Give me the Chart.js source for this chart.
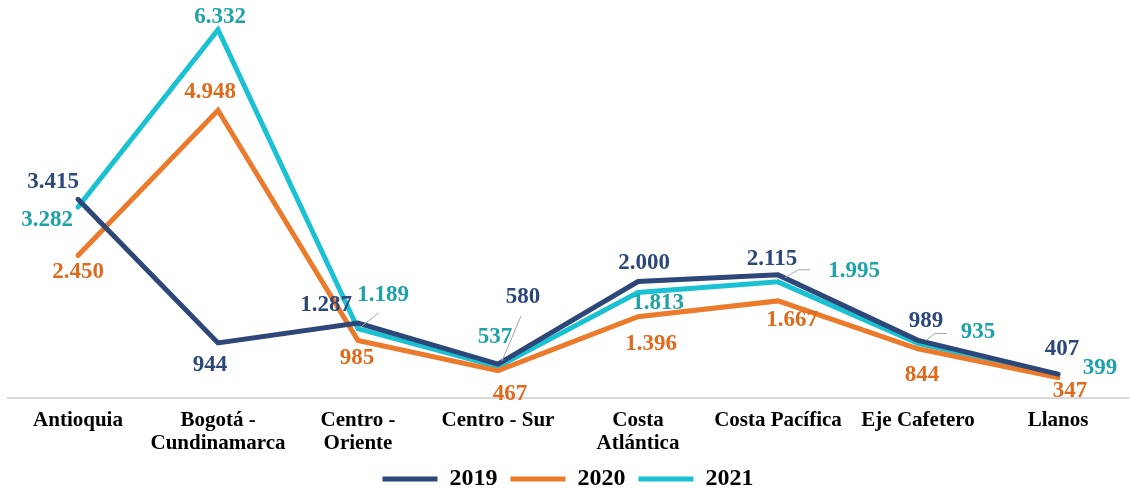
<!DOCTYPE html>
<html lang="es">
<head>
<meta charset="UTF-8">
<title>Regiones 2019-2021</title>
<script src="https://cdn.jsdelivr.net/npm/chart.js"></script>
<style>
    html, body { margin: 0; padding: 0; background: #fff; }
    #wrap { width: 1130px; height: 491px; }
</style>
</head>
<body>
<div id="wrap"><canvas id="regionChart" width="1130" height="491"></canvas></div>
<script>
    // categorias y valores
    const regions = [
        'Antioquia',
        ['Bogotá -', 'Cundinamarca'],
        ['Centro -', 'Oriente'],
        'Centro - Sur',
        ['Costa', 'Atlántica'],
        'Costa Pacífica',
        'Eje Cafetero',
        'Llanos'
    ];
    const years = ['2019', '2020', '2021'];
    const values2019 = [3415, 944, 1287, 580, 2000, 2115, 989, 407];
    const values2020 = [2450, 4948, 985, 467, 1396, 1667, 844, 347];
    const values2021 = [3282, 6332, 1189, 537, 1813, 1995, 935, 399];

    const lineColors = ['#2C4778', '#EC7A2B', '#19C1D2'];
    const labelColors = ['#2C4778', '#E06A1C', '#1DA2A8'];

    // posicion de cada etiqueta respecto a su punto (dx, dy)
    const labelOffsets = [
        [[-25, -17], [-8, 22], [-32, -18], [25, -67], [6, -18], [-6, -16], [8, -19], [4, -25]],
        [[0, 17], [-8, -18], [-1, 18], [12, 23], [13, 27], [14, 19], [4, 26], [12, 13]],
        [[-31, 13], [2, -13], [25, -34], [-3, -30], [20, 11], [76, -11], [60, -11], [42, -7]]
    ];
    // lineas guia grises: [serie, indice, puntos relativos al punto]
    const leaders = [
        [2, 2, [[21, -16], [2, -1]]],
        [0, 3, [[23, -48], [4, -3]]],
        [2, 5, [[32, -12], [20, -12], [7, -4]]],
        [2, 6, [[29, -10], [17, -10], [8, -3]]]
    ];

    function fmt(v) {
        return String(v).replace(/\B(?=(\d{3})+(?!\d))/g, '.');
    }

    const pointLabels = {
        id: 'pointLabels',
        afterDatasetsDraw(chart) {
            const ctx = chart.ctx;
            ctx.save();
            ctx.strokeStyle = '#A6A6A6';
            ctx.lineWidth = 1;
            leaders.forEach(([ds, i, pts]) => {
                const p = chart.getDatasetMeta(ds).data[i];
                ctx.beginPath();
                pts.forEach(([dx, dy], k) => {
                    if (k === 0) ctx.moveTo(p.x + dx, p.y + dy);
                    else ctx.lineTo(p.x + dx, p.y + dy);
                });
                ctx.stroke();
            });
            ctx.font = 'bold 23px "Liberation Serif"';
            ctx.textAlign = 'center';
            ctx.textBaseline = 'middle';
            chart.data.datasets.forEach((dataset, ds) => {
                const meta = chart.getDatasetMeta(ds);
                ctx.fillStyle = labelColors[ds];
                meta.data.forEach((pt, i) => {
                    const [dx, dy] = labelOffsets[ds][i];
                    ctx.fillText(fmt(dataset.data[i]), pt.x + dx, pt.y + dy);
                });
            });
            ctx.restore();
        }
    };

    const seriesData = [values2019, values2020, values2021];

    new Chart(document.getElementById('regionChart'), {
        type: 'line',
        data: {
            labels: regions,
            datasets: years.map((y, k) => ({
                label: y,
                data: seriesData[k],
                borderColor: lineColors[k],
                backgroundColor: lineColors[k],
                borderWidth: 5,
                borderCapStyle: 'round',
                pointRadius: 0,
                tension: 0
            }))
        },
        options: {
            responsive: false,
            devicePixelRatio: 1,
            animation: false,
            layout: { padding: { top: 20, left: 8, right: 2, bottom: -10 } },
            scales: {
                x: {
                    offset: true,
                    grid: { display: false, drawTicks: false },
                    border: { color: '#D9D9D9', width: 2 },
                    ticks: {
                        color: '#000',
                        font: { family: 'Liberation Serif', weight: 'bold', size: 21, lineHeight: 1.1 },
                        padding: 11,
                        maxRotation: 0,
                        autoSkip: false
                    },
                    afterFit(scale) {
                        scale.height -= 12;
                    }
                },
                y: {
                    display: false,
                    min: 0,
                    max: 6500
                }
            },
            plugins: {
                legend: {
                    position: 'bottom',
                    labels: {
                        color: '#000',
                        font: { family: 'Liberation Serif', weight: 'bold', size: 24 },
                        usePointStyle: true,
                        pointStyle: 'line',
                        pointStyleWidth: 55,
                        padding: 13
                    }
                },
                tooltip: { enabled: false }
            }
        },
        plugins: [pointLabels]
    });
</script>
</body>
</html>
